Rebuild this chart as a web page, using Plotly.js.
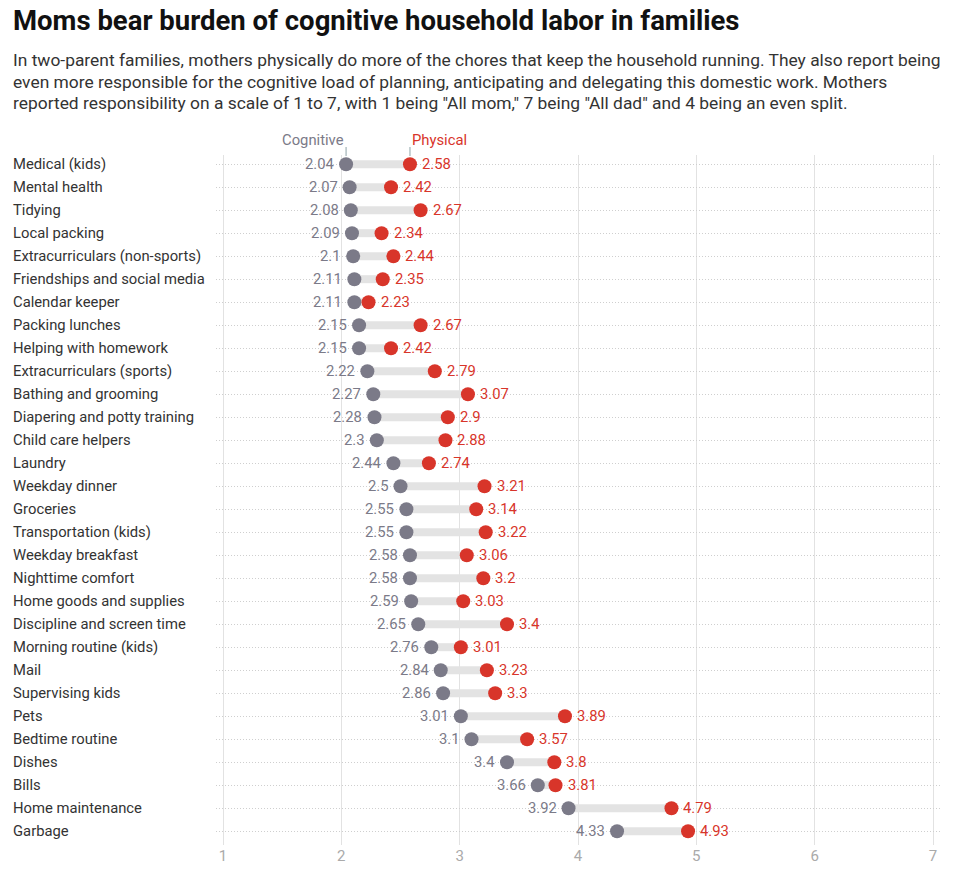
<!DOCTYPE html>
<html><head><meta charset="utf-8">
<script src="https://cdn.plot.ly/plotly-3.0.1.min.js"></script>
<style>body{margin:0;background:#fff}#chart{width:964px;height:875px}</style>
</head><body><div id="chart"></div>
<script>
const categories = ["Medical (kids)","Mental health","Tidying","Local packing","Extracurriculars (non-sports)","Friendships and social media","Calendar keeper","Packing lunches","Helping with homework","Extracurriculars (sports)","Bathing and grooming","Diapering and potty training","Child care helpers","Laundry","Weekday dinner","Groceries","Transportation (kids)","Weekday breakfast","Nighttime comfort","Home goods and supplies","Discipline and screen time","Morning routine (kids)","Mail","Supervising kids","Pets","Bedtime routine","Dishes","Bills","Home maintenance","Garbage"];
const cognitive = [2.04,2.07,2.08,2.09,2.1,2.11,2.11,2.15,2.15,2.22,2.27,2.28,2.3,2.44,2.5,2.55,2.55,2.58,2.58,2.59,2.65,2.76,2.84,2.86,3.01,3.1,3.4,3.66,3.92,4.33];
const physical = [2.58,2.42,2.67,2.34,2.44,2.35,2.23,2.67,2.42,2.79,3.07,2.9,2.88,2.74,3.21,3.14,3.22,3.06,3.2,3.03,3.4,3.01,3.23,3.3,3.89,3.57,3.8,3.81,4.79,4.93];
const xTicks = [1,2,3,4,5,6,7];

const W=964,H=875,ML=216,MR=22,MT=155,MB=30;
const PW=W-ML-MR, PH=H-MT-MB;
const px=x=>(x-ML)/PW, py=y=>(H-MB-y)/PH;
const GRAY='#7b7a88', RED='#d8352a';
const FONT='Roboto, "Open Sans", sans-serif';
// x mapping: 1 -> 223px, 7 -> 933px
const u=(933-223)/6;
const x0=1-(223-ML)/u, x1=7+(W-MR-933)/u;

const idx = categories.map((_,i)=>i);
const cx=[], cy=[];
idx.forEach(i=>{cx.push(cognitive[i],physical[i],null);cy.push(i,i,null);});

const traces = [
 {x:cx,y:cy,mode:'lines',line:{color:'#e3e3e3',width:8},hoverinfo:'skip',showlegend:false},
 {x:cognitive,y:idx,mode:'markers',marker:{color:GRAY,size:14},showlegend:false},
 {x:physical,y:idx,mode:'markers',marker:{color:RED,size:14},showlegend:false}
];

const ann = [];
ann.push({xref:'paper',yref:'paper',x:px(11),y:py(20),xanchor:'left',yanchor:'middle',showarrow:false,
  text:'<b>Moms bear burden of cognitive household labor in families</b>',font:{family:FONT,size:27.5,color:'#111'}});
const sub=['In two-parent families, mothers physically do more of the chores that keep the household running. They also report being',
 'even more responsible for the cognitive load of planning, anticipating and delegating this domestic work. Mothers',
 'reported responsibility on a scale of 1 to 7, with 1 being "All mom," 7 being "All dad" and 4 being an even split.'];
sub.forEach((t,k)=>ann.push({xref:'paper',yref:'paper',x:px(11),y:py(60+k*21.5),xanchor:'left',yanchor:'middle',showarrow:false,
  text:t,font:{family:FONT,size:17.4,color:'#333'}}));
categories.forEach((c,i)=>{
 ann.push({xref:'paper',yref:'y',x:px(11),y:i,xanchor:'left',yanchor:'middle',showarrow:false,text:c,font:{family:FONT,size:14.8,color:'#333'}});
 ann.push({xref:'x',yref:'y',x:cognitive[i],y:i,xanchor:'right',yanchor:'middle',xshift:-10,showarrow:false,text:String(cognitive[i]),font:{family:FONT,size:14.8,color:GRAY}});
 ann.push({xref:'x',yref:'y',x:physical[i],y:i,xanchor:'left',yanchor:'middle',xshift:10,showarrow:false,text:String(physical[i]),font:{family:FONT,size:14.8,color:RED}});
});
ann.push({xref:'x',yref:'paper',x:cognitive[0],y:py(140),xanchor:'right',yanchor:'middle',showarrow:false,text:'Cognitive',font:{family:FONT,size:14.8,color:GRAY}});
ann.push({xref:'x',yref:'paper',x:physical[0],y:py(140),xanchor:'left',yanchor:'middle',showarrow:false,text:'Physical',font:{family:FONT,size:14.8,color:RED}});

const shapes=[cognitive[0],physical[0]].map(v=>({type:'line',xref:'x',yref:'paper',x0:v,x1:v,y0:py(147),y1:py(156),line:{color:'#8fa4a8',width:1}}));

const layout = {
 width:W,height:H,margin:{l:ML,r:MR,t:MT,b:MB},paper_bgcolor:'#fff',plot_bgcolor:'#fff',
 font:{family:FONT},
 xaxis:{range:[x0,x1],tickvals:xTicks,ticktext:xTicks.map(String),showgrid:true,gridcolor:'#e2e2e2',gridwidth:1,
   zeroline:false,showline:false,ticks:'',tickfont:{family:FONT,size:15,color:'#aaa'},fixedrange:true},
 yaxis:{range:[29.6,-0.4],tickvals:idx,showticklabels:false,showgrid:true,gridcolor:'#cfcfcf',griddash:'1px,2px',gridwidth:1,
   zeroline:false,showline:false,ticks:'',fixedrange:true},
 annotations:ann,shapes:shapes,showlegend:false
};
Plotly.newPlot('chart',traces,layout,{displayModeBar:false,staticPlot:true});
</script></body></html>
